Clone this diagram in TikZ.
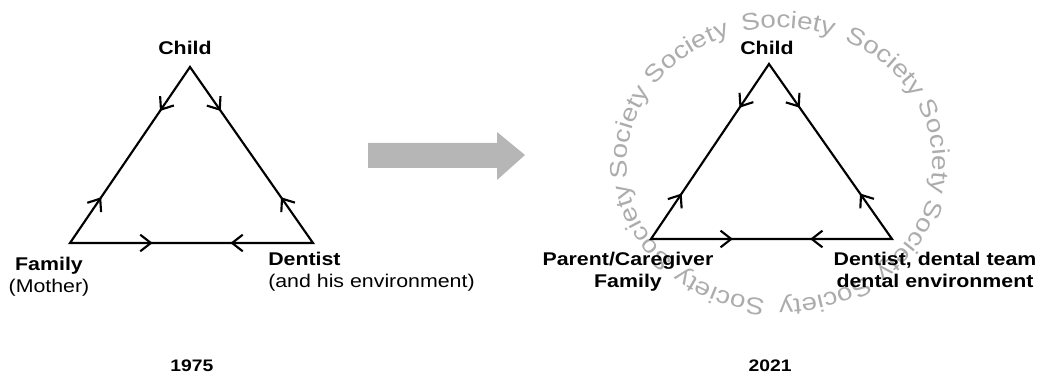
\documentclass[tikz,border=0pt]{standalone}
\usepackage{fontspec}
\setmainfont[FakeStretch=1.16]{Liberation Sans}
\usetikzlibrary{arrows.meta, decorations.markings, decorations.text}
\definecolor{socgray}{RGB}{172,172,172}
\definecolor{arrgray}{RGB}{182,182,182}
\newcommand{\socfont}{\fontsize{18}{21}\selectfont}

\begin{document}
\begin{tikzpicture}[x=0.75pt, y=0.75pt,
    side/.style={line width=1.6pt, line join=miter},
    flow/.style={side, decoration={markings,
        mark=at position #1 with {\arrow{Straight Barb[length=8pt, width=12.5pt]}}},
      postaction={decorate}},
    lbl/.style={font=\bfseries\fontsize{13.8}{16.5}\selectfont, inner sep=0pt, align=center},
    year/.style={font=\bfseries\fontsize{12.5}{15}\selectfont, inner sep=0pt, anchor=base}]
  \useasboundingbox (0,0) rectangle (1047,374);

  % 1975 triangle
  \coordinate (c1) at (190,307);
  \coordinate (f1) at (70,131);
  \coordinate (d1) at (313,131);
  \draw[side] (c1) -- (f1) -- (d1) -- cycle;
  \path[flow=0.25] (c1) -- (f1);
  \path[flow=0.26] (f1) -- (c1);
  \path[flow=0.25] (c1) -- (d1);
  \path[flow=0.26] (d1) -- (c1);
  \path[flow=0.34] (f1) -- (d1);
  \path[flow=0.34] (d1) -- (f1);
  \node[lbl, anchor=base] (child1) at (185,319) {Child};
  \node[lbl, anchor=north] (family1) at (49,117) {Family\\{\mdseries (Mother)}};
  \node[lbl, align=left, anchor=north west] (dentist1) at (268,122) {Dentist\\{\mdseries (and his environment)}};
  \node[year] (year1) at (192,2) {1975};

  % transition arrow
  \fill[arrgray] (368,231) -- (497,231) -- (497,242) -- (525,219) -- (497,194) -- (497,206) -- (368,206) -- cycle;

  % society ring
  \foreach \a in {87,47,...,-233} {
    \path[decorate, decoration={text along path, text={|\socfont|Society},
        text color=socgray, text align=center}]
      (780,210) ++(\a+21:153 and 136)
      arc[start angle=\a+21, end angle=\a-21, x radius=153, y radius=136];
  }

  % 2021 triangle
  \coordinate (c2) at (769,310);
  \coordinate (f2) at (651,135);
  \coordinate (d2) at (892,135);
  \draw[side] (c2) -- (f2) -- (d2) -- cycle;
  \path[flow=0.25] (c2) -- (f2);
  \path[flow=0.26] (f2) -- (c2);
  \path[flow=0.25] (c2) -- (d2);
  \path[flow=0.26] (d2) -- (c2);
  \path[flow=0.34] (f2) -- (d2);
  \path[flow=0.34] (d2) -- (f2);
  \node[lbl, anchor=base] (child2) at (767,319) {Child};
  \node[lbl, anchor=north] (parent2) at (628,122) {Parent/Caregiver\\Family};
  \node[lbl, anchor=north] (dentist2) at (935,122) {Dentist, dental team\\dental environment};
  \node[year] (year2) at (770,2) {2021};
\end{tikzpicture}
\end{document}
